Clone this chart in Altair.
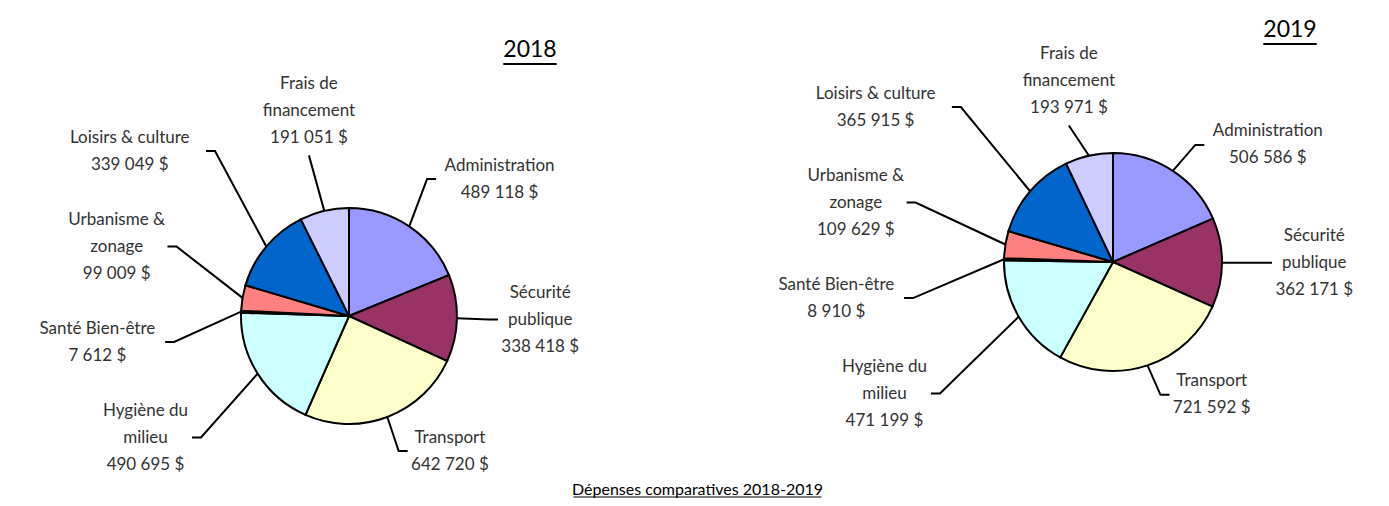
import math
import altair as alt
import pandas as pd

# ---------------- data ----------------
categories = ["Administration", "Sécurité publique", "Transport", "Hygiène du milieu",
              "Santé Bien-être", "Urbanisme & zonage", "Loisirs & culture", "Frais de financement"]
label_lines = [["Administration"], ["Sécurité", "publique"], ["Transport"], ["Hygiène du", "milieu"],
               ["Santé Bien-être"], ["Urbanisme &", "zonage"], ["Loisirs & culture"], ["Frais de", "financement"]]
values_2018 = [489118, 338418, 642720, 490695, 7612, 99009, 339049, 191051]
values_2019 = [506586, 362171, 721592, 471199, 8910, 109629, 365915, 193971]
years = ["2018", "2019"]
main_title = "Dépenses comparatives 2018-2019"

# ---------------- style / layout ----------------
colors = ["#9999FF", "#993366", "#FFFFCC", "#CCFFFF", "#660066", "#FF8080", "#0066CC", "#CCCCFF"]
W, H = 1373, 490
FONT = "Lato"
FS = 17
LH = 27
TXT = "#333333"
GAP = 28
TICK = 9
pies = {
    "2018": dict(cx=341, cy=308, r=108, rxr=140, rxl=175, ry=165, tx=522, ty=42, tfs=23),
    "2019": dict(cx=1105, cy=254, r=109, rxr=150, rxl=200, ry=140, tx=1282, ty=22, tfs=23),
}


def fmt(v):
    return f"{v:,}".replace(",", " ") + " $"


def relax(items):
    items.sort(key=lambda d: d["ly"])
    for _ in range(400):
        moved = False
        for a, b in zip(items, items[1:]):
            need = (a["h"] + b["h"]) / 2 + GAP - (b["ly"] - a["ly"])
            if need > 0.01:
                a["ly"] -= need / 2
                b["ly"] += need / 2
                moved = True
        for d in items:
            lo, hi = d["h"] / 2 + 4, H - d["h"] / 2 - 20
            d["ly"] = min(max(d["ly"], lo), hi)
        if not moved:
            break


arc_rows, text_rows, lead_rows = [], [], []
for year, vals in zip(years, [values_2018, values_2019]):
    cfg = pies[year]
    cx, cy, r = cfg["cx"], cfg["cy"], cfg["r"]
    total = sum(vals)
    cum = 0.0
    labs = []
    for i, v in enumerate(vals):
        arc_rows.append(dict(year=year, category=categories[i], value=v, idx=i))
        a0 = cum / total * 2 * math.pi
        cum += v
        a1 = cum / total * 2 * math.pi
        am = (a0 + a1) / 2
        s, c = math.sin(am), math.cos(am)
        lines = label_lines[i] + [fmt(v)]
        w = max(len(t) for t in lines) * 0.5 * FS
        h = len(lines) * LH
        side = "right" if s > 0.3 else ("left" if s < -0.3 else ("top" if c > 0 else "bottom"))
        rx = cfg["rxr"] if s >= 0 else cfg["rxl"]
        labs.append(dict(i=i, side=side, ex=cx + r * s, ey=cy - r * c,
                         ax=cx + rx * s, ay=cy - cfg["ry"] * c, ly=cy - cfg["ry"] * c,
                         w=w, h=h, n=len(lines), txt="\n".join(lines)))
    relax([d for d in labs if d["side"] == "left"])
    relax([d for d in labs if d["side"] == "right"])
    for d in labs:
        lid = f"{year}-{d['i']}"
        if d["side"] in ("left", "right"):
            sg = 1 if d["side"] == "right" else -1
            tx = d["ax"] + sg * TICK
            bx = tx + sg * (4 + d["w"] / 2)
            by = d["ly"]
            pts = [(d["ex"], d["ey"]), (d["ax"], d["ly"]), (tx, d["ly"])]
        else:
            bx = d["ax"]
            if d["side"] == "top":
                by = d["ay"] - 4 - d["h"] / 2
            else:
                by = d["ay"] + 4 + d["h"] / 2
            pts = [(d["ex"], d["ey"]), (d["ax"], d["ay"])]
        # first-line position so that the whole block is centred on by
        text_rows.append(dict(x=bx, y=by - (d["n"] - 1) / 2 * LH, txt=d["txt"]))
        for k, (px, py) in enumerate(pts):
            lead_rows.append(dict(lid=lid, k=k, x=px, y=py))

arcs = pd.DataFrame(arc_rows)
texts = pd.DataFrame(text_rows)
leads = pd.DataFrame(lead_rows)

color_scale = alt.Scale(domain=categories, range=colors)

layers = []
for year in years:
    cfg = pies[year]
    layers.append(
        alt.Chart(arcs[arcs.year == year]).mark_arc(
            stroke="black", strokeWidth=2, radius=cfg["r"]
        ).encode(
            theta=alt.Theta("value:Q", stack=True),
            color=alt.Color("category:N", scale=color_scale, legend=None),
            order=alt.Order("idx:Q"),
            x=alt.value(cfg["cx"]),
            y=alt.value(cfg["cy"]),
        )
    )

X = lambda f: alt.X(f, scale=None, axis=None)
Y = lambda f: alt.Y(f, scale=None, axis=None)

lead_layer = alt.Chart(leads).mark_line(color="black", strokeWidth=2).encode(
    x=X("x:Q"), y=Y("y:Q"), detail="lid:N", order="k:Q"
)
text_layer = alt.Chart(texts).mark_text(
    font=FONT, fontSize=FS, lineBreak="\n", align="center", baseline="middle",
    color=TXT, lineHeight=LH
).encode(x=X("x:Q"), y=Y("y:Q"), text="txt:N")

# titles with underline
title_rows = []
for year in years:
    cfg = pies[year]
    tw = len(year) * 0.58 * cfg["tfs"]
    title_rows.append(dict(txt=year, x=cfg["tx"], y=cfg["ty"], fs=cfg["tfs"],
                           ux=cfg["tx"] - tw / 2, ux2=cfg["tx"] + tw / 2, uy=cfg["ty"] + 14))
titles = pd.DataFrame(title_rows)
title_text = alt.Chart(titles).mark_text(
    font=FONT, fontSize=23, align="center", baseline="middle", color="black"
).encode(x=X("x:Q"), y=Y("y:Q"), text="txt:N")
title_rule = alt.Chart(titles).mark_rule(color="black", strokeWidth=2).encode(
    x=X("ux:Q"), x2="ux2:Q", y=Y("uy:Q")
)

MFS = 16
mw = len(main_title) * 0.5 * MFS
main = pd.DataFrame([dict(txt=main_title, x=W / 2 + 3, y=H - 8,
                          ux=W / 2 + 3 - mw / 2, ux2=W / 2 + 3 + mw / 2, uy=H - 1)])
main_text = alt.Chart(main).mark_text(
    font=FONT, fontSize=MFS, align="center", baseline="middle", color="black"
).encode(x=X("x:Q"), y=Y("y:Q"), text="txt:N")
main_rule = alt.Chart(main).mark_rule(color="black", strokeWidth=1).encode(
    x=X("ux:Q"), x2="ux2:Q", y=Y("uy:Q")
)

chart = alt.layer(
    *layers, lead_layer, text_layer, title_text, title_rule, main_text, main_rule
).resolve_scale(theta="independent").properties(
    width=W, height=H, padding=0,
    autosize=alt.AutoSizeParams(type="none"),
).configure_view(stroke=None)

chart.save("out.html", embed_options={"renderer": "svg", "actions": False})
